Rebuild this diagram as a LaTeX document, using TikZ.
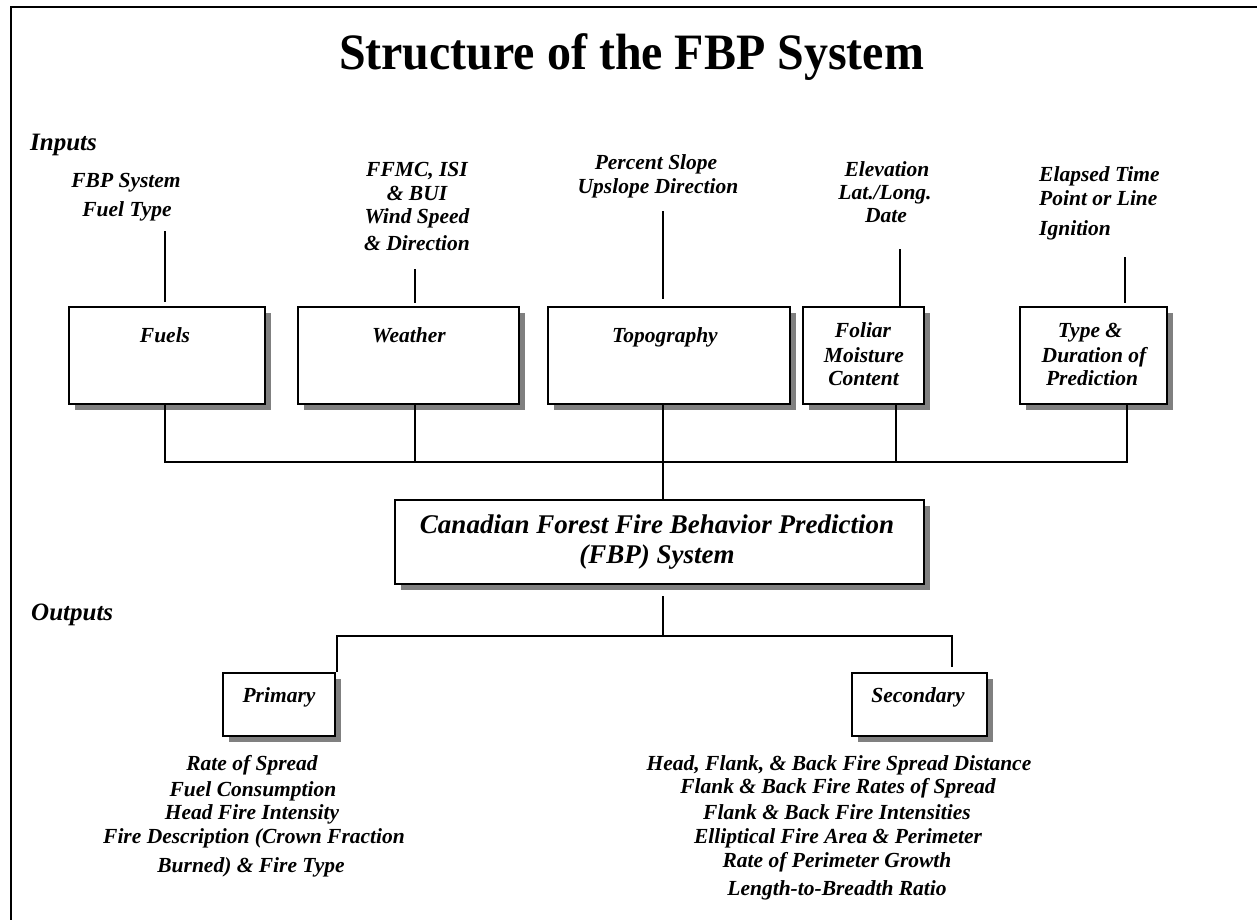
\documentclass[tikz,border=0pt]{standalone}
\usepackage{fontspec}
\setmainfont{Liberation Serif}
\usetikzlibrary{shadows,calc}
\definecolor{shadowgray}{RGB}{128,128,128}
\tikzset{
  inbox/.style={draw, line width=2pt, fill=white, inner sep=0pt,
    drop shadow={shadow xshift=6pt, shadow yshift=-6pt, fill=shadowgray, opacity=1}},
  conn/.style={line width=1.8pt},
  lbl/.style={anchor=base, inner sep=0pt, font=\fontsize{21.5}{24}\selectfont\bfseries\itshape},
  lbll/.style={lbl, anchor=base west},
  biglbl/.style={anchor=base, inner sep=0pt, font=\fontsize{27}{30}\selectfont\bfseries\itshape},
  headlbl/.style={anchor=base west, inner sep=0pt, font=\fontsize{25}{28}\selectfont\bfseries\itshape},
}
\begin{document}
\begin{tikzpicture}[x=1pt,y=-1pt]
\useasboundingbox (0,0) rectangle (1257,919);
\fill[white] (0,0) rectangle (1257,919);
% frame
\draw[line width=2.5pt] (11,925) -- (11,7) -- (1262,7);
% title
\node[anchor=base, inner sep=0pt, font=\fontsize{51}{56}\selectfont\bfseries] (title) at (631.5,69) {\scalebox{0.94}[1]{Structure of the FBP System}};
\node[headlbl] (inputs) at (30,150) {Inputs};
\node[headlbl] (outputs) at (31,620) {Outputs};

% input boxes
\node[inbox, minimum width=196pt, minimum height=97pt] (fuels) at (167,355.5) {};
\node[inbox, minimum width=221pt, minimum height=97pt] (weather) at (408.5,355.5) {};
\node[inbox, minimum width=242pt, minimum height=97pt] (topo) at (669,355.5) {};
\node[inbox, minimum width=121pt, minimum height=97pt] (foliar) at (863.5,355.5) {};
\node[inbox, minimum width=147pt, minimum height=97pt] (type) at (1093.5,355.5) {};
\node[inbox, minimum width=529pt, minimum height=84pt] (cffbp) at (659.5,542) {};
\node[inbox, minimum width=112pt, minimum height=63pt] (primary) at (279,704.5) {};
\node[inbox, minimum width=135pt, minimum height=63pt] (secondary) at (919.5,704.5) {};

% box labels
\node[lbl] (fuelsl) at (165,342) {Fuels};
\node[lbl] (weatherl) at (409,342) {Weather};
\node[lbl] (topol) at (665,342) {Topography};
\node[lbl] (foliar1) at (863,337) {Foliar};
\node[lbl] (foliar2) at (864,362) {Moisture};
\node[lbl] (foliar3) at (863.5,385) {Content};
\node[lbl] (type1) at (1090,337) {Type \&};
\node[lbl] (type2) at (1094,362) {Duration of};
\node[lbl] (type3) at (1092,385) {Prediction};
\node[biglbl] (cf1) at (657,533) {Canadian Forest Fire Behavior Prediction};
\node[biglbl] (cf2) at (657,563) {(FBP) System};
\node[lbl] (primaryl) at (279,702) {Primary};
\node[lbl] (secondaryl) at (918,702) {Secondary};

% input texts
\node[lbl] (in1a) at (126,187) {FBP System};
\node[lbl] (in1b) at (127,216) {Fuel Type};
\node[lbl] (in2a) at (417,176) {FFMC, ISI};
\node[lbl] (in2b) at (417,200) {\& BUI};
\node[lbl] (in2c) at (417,223) {Wind Speed};
\node[lbl] (in2d) at (417,250) {\& Direction};
\node[lbl] (in3a) at (656,169) {Percent Slope};
\node[lbl] (in3b) at (658,193) {Upslope Direction};
\node[lbl] (in4a) at (887,176) {Elevation};
\node[lbl] (in4b) at (885,199) {Lat./Long.};
\node[lbl] (in4c) at (886,222) {Date};
\node[lbll] (in5a) at (1039,181) {Elapsed Time};
\node[lbll] (in5b) at (1039,205) {Point or Line};
\node[lbll] (in5c) at (1039,235) {Ignition};

% output texts
\node[lbl] (p1) at (252,770) {Rate of Spread};
\node[lbl] (p2) at (253,796) {Fuel Consumption};
\node[lbl] (p3) at (252,819) {Head Fire Intensity};
\node[lbl] (p4) at (254,843) {Fire Description (Crown Fraction};
\node[lbl] (p5) at (251,872) {Burned) \& Fire Type};
\node[lbl] (s1) at (839,770) {Head, Flank, \& Back Fire Spread Distance};
\node[lbl] (s2) at (838,793) {Flank \& Back Fire Rates of Spread};
\node[lbl] (s3) at (837,819) {Flank \& Back Fire Intensities};
\node[lbl] (s4) at (838,843) {Elliptical Fire Area \& Perimeter};
\node[lbl] (s5) at (837,867) {Rate of Perimeter Growth};
\node[lbl] (s6) at (837,895) {Length-to-Breadth Ratio};

% connector end points
\coordinate (t1) at (165,231);
\coordinate (t2) at (415,269);
\coordinate (t3) at (663,211);
\coordinate (t4) at (900,249);
\coordinate (t5) at (1125,257);
\coordinate (b1) at (165,462);
\coordinate (b2) at (415,462);
\coordinate (b3) at (663,462);
\coordinate (b4) at (896,462);
\coordinate (b5) at (1127,462);
\coordinate (o0) at (663,596);
\coordinate (oc) at (663,636);
\coordinate (ol) at (337,636);
\coordinate (or) at (952,636);
\coordinate (ore) at (952,667);

% input connectors
\draw[conn, shorten >=4pt] (t1) -- (t1 |- fuels.north);
\draw[conn, shorten >=3pt] (t2) -- (t2 |- weather.north);
\draw[conn, shorten >=7pt] (t3) -- (t3 |- topo.north);
\draw[conn] (t4) -- (t4 |- foliar.north);
\draw[conn, shorten >=3pt] (t5) -- (t5 |- type.north);
% bus
\draw[conn] (b1 |- fuels.south) -- (b1) -- (b5) -- (b5 |- type.south);
\draw[conn] (b2 |- weather.south) -- (b2);
\draw[conn] (b3 |- topo.south) -- (b3 |- cffbp.north);
\draw[conn] (b4 |- foliar.south) -- (b4);
% outputs
\draw[conn] (o0) -- (oc);
\draw[conn] (ol |- primary.north) -- (ol) -- (or) -- (ore);
\end{tikzpicture}
\end{document}
